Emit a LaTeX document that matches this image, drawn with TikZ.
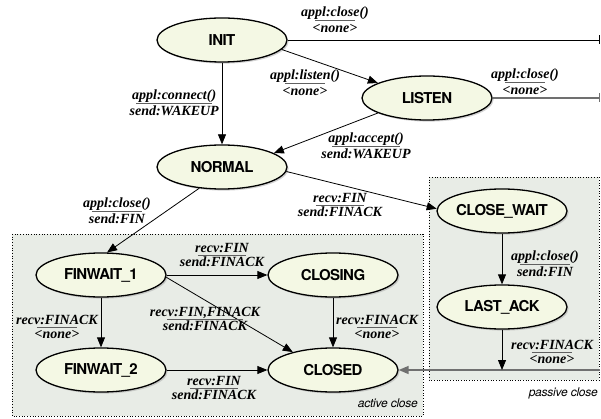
\documentclass[tikz,border=0pt]{standalone}
\usepackage{fontspec}
\setmainfont{Liberation Serif}
\newfontfamily\statefont{TeX Gyre Heros}[LetterSpace=-4.0]
\newfontfamily\areafont{TeX Gyre Heros}[LetterSpace=-2.0]
\usetikzlibrary{arrows.meta,shapes.geometric,shadows}

\definecolor{statefill}{HTML}{F4F8E4}
\definecolor{areafill}{HTML}{E8ECE6}
\definecolor{linkgray}{HTML}{707070}
\definecolor{rulegray}{HTML}{606060}

% transition label: trigger over action, separated by a short rule
\newdimen\transrulewd
\newcommand\trans[2]{%
  \begingroup
  \setbox0=\hbox{#1}\setbox2=\hbox{#2}%
  \ifdim\wd0<\wd2 \transrulewd=\wd0 \else \transrulewd=\wd2 \fi
  \transrulewd=0.9\transrulewd
  \vbox{\offinterlineskip\halign{\hfil##\hfil\cr
    \vrule height 10pt depth 2.5pt width 0pt\box0\cr
    \noalign{\kern0.5pt}
    {\color{rulegray}\vrule height 0.6pt depth 0pt width \transrulewd}\cr
    \noalign{\kern1pt}
    \vrule height 10pt depth 3pt width 0pt\box2\cr}}%
  \endgroup}

\begin{document}
\begin{tikzpicture}[x=1pt,y=-1pt,
  stnode/.style={ellipse,draw=black,line width=1.3pt,fill=statefill,
    minimum width=130pt,minimum height=44pt,inner sep=0pt,
    font=\statefont\fontsize{15}{17}\selectfont\bfseries,
    drop shadow={shadow xshift=1.6pt,shadow yshift=-1.6pt,fill=black!35}},
  area/.style={draw=black,dotted,line width=0.7pt,fill=areafill},
  areatext/.style={font=\areafont\fontsize{12}{14}\selectfont\itshape,inner sep=0pt},
  lbl/.style={inner sep=0pt,font=\fontsize{14}{16}\selectfont\bfseries\itshape},
  edge/.style={draw=black,line width=0.8pt,-{Triangle[length=10pt,width=8pt]}},
  cut/.style={draw=black,line width=0.8pt,-{Bar[width=9pt,line width=0.8pt]}},
  greycut/.style={draw=linkgray,line width=1.4pt,-{Bar[width=9pt,line width=0.8pt]}},
  greylink/.style={draw=linkgray,line width=1.4pt,-{Triangle[length=10pt,width=8pt]}}]
\useasboundingbox (0,0) rectangle (601,419);

% close phases
\draw[area] (12,234) rectangle (423,416);
\draw[area] (429,177) rectangle (599,380);
\node[areatext,anchor=base east] (activetxt) at (418,407) {active close};
\node[areatext,anchor=base east] (passivetxt) at (598,396) {passive close};

% states
\node[stnode] (init)    at (222,40)  {INIT};
\node[stnode] (listen)  at (427,98)  {LISTEN};
\node[stnode] (normal)  at (222,167) {NORMAL};
\node[stnode] (cwait)   at (502,211) {CLOSE\_WAIT};
\node[stnode] (lastack) at (502,307) {LAST\_ACK};
\node[stnode] (fw1)     at (101,275) {FINWAIT\_1};
\node[stnode] (closing) at (333,275) {CLOSING};
\node[stnode] (fw2)     at (101,370) {FINWAIT\_2};
\node[stnode] (closed)  at (333,370) {CLOSED};

% right margin where the abort links leave and enter
\coordinate (rim) at (600,0);
\coordinate (drop) at (lastack.south |- closed.center);

% transitions
\draw[cut] (init.east) -- (init.east -| rim);
\draw[greycut] (listen.east) -- (listen.east -| rim);
\draw[edge] (init.-9) -- (listen.163);
\draw[edge] (init.south) -- (normal.north);
\draw[edge] (listen.-163) -- (normal.15);
\draw[edge] (normal.-4) -- (cwait.178);
\draw[edge] (normal.-137) -- (fw1.75);
\draw[edge] (fw1.east) -- (closing.west);
\draw[edge] (fw1.south) -- (fw2.north);
\draw[edge] (fw1.-2) -- (closed.156);
\draw[edge] (closing.south) -- (closed.north);
\draw[edge] (fw2.east) -- (closed.west);
\draw[edge] (cwait.south) -- (lastack.north);
\draw[greylink] (rim |- closed.center) -- (closed.east);
\draw[edge] (lastack.south) -- (drop);

% transition labels
\node[lbl] (l1)  at (335,21)  {\trans{appl:close()}{<none>}};
\node[lbl] (l2)  at (305,84)  {\trans{appl:listen()}{<none>}};
\node[lbl] (l3)  at (525,83)  {\trans{appl:close()}{<none>}};
\node[lbl,anchor=east] (l4) at (219,104) {\trans{appl:connect()}{send:WAKEUP}};
\node[lbl] (l5)  at (366,147) {\trans{appl:accept()}{send:WAKEUP}};
\node[lbl] (l6)  at (340,206) {\trans{recv:FIN}{send:FINACK}};
\node[lbl] (l7)  at (117,212) {\trans{appl:close()}{send:FIN}};
\node[lbl] (l8)  at (222,256) {\trans{recv:FIN}{send:FINACK}};
\node[lbl] (l9)  at (57,328)  {\trans{recv:FINACK}{<none>}};
\node[lbl] (l10) at (205,320) {\trans{recv:FIN,FINACK}{send:FINACK}};
\node[lbl] (l11) at (377,328) {\trans{recv:FINACK}{<none>}};
\node[lbl] (l12) at (214,389) {\trans{recv:FIN}{send:FINACK}};
\node[lbl] (l13) at (545,265) {\trans{appl:close()}{send:FIN}};
\node[lbl] (l14) at (552,353) {\trans{recv:FINACK}{<none>}};
\end{tikzpicture}
\end{document}
